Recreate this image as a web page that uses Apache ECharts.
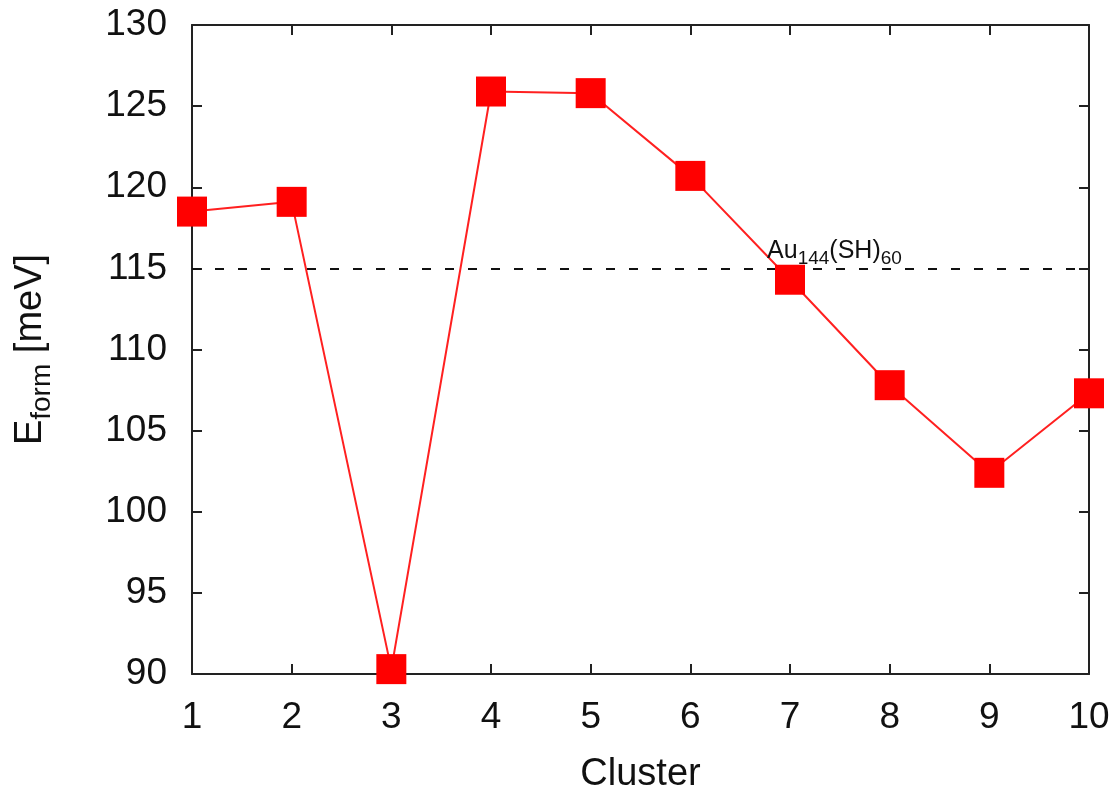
<!DOCTYPE html>
<html>
<head>
<meta charset="utf-8">
<script src="https://cdn.jsdelivr.net/npm/echarts@6/dist/echarts.min.js"></script>
<style>
html,body{margin:0;padding:0;background:#fff;}
#c{width:1119px;height:788px;}
</style>
</head>
<body>
<div id="c"></div>
<script>
var clusters = [1, 2, 3, 4, 5, 6, 7, 8, 9, 10];
var eform = [118.5, 119.1, 90.3, 125.9, 125.8, 120.7, 114.3, 107.8, 102.4, 107.3];
var referenceValue = 115;
var referenceLabelX = 6.77;
var xLabel = 'Cluster';

var FONT = '"Liberation Sans", Arial, Helvetica, sans-serif';
var AXC = '#222';

var chart = echarts.init(document.getElementById('c'), null, {renderer: 'canvas'});
var pts = clusters.map(function (c, i) { return [c, eform[i]]; });

var tickStyle = {show: true, inside: true, length: 10, lineStyle: {color: AXC, width: 2}};
var lineStyle = {show: true, onZero: false, lineStyle: {color: AXC, width: 2}};

chart.setOption({
  animation: false,
  backgroundColor: '#fff',
  grid: {left: 192, right: 30, top: 25, bottom: 114, containLabel: false, outerBoundsMode: 'none'},
  xAxis: [{
    type: 'value', min: 1, max: 10, interval: 1, position: 'bottom',
    name: xLabel, nameLocation: 'middle', nameGap: 82,
    nameTextStyle: {fontFamily: FONT, fontSize: 38, color: '#111'},
    axisLine: lineStyle, axisTick: tickStyle, splitLine: {show: false},
    axisLabel: {fontFamily: FONT, fontSize: 37, color: '#111', margin: 25}
  }, {
    type: 'value', min: 1, max: 10, interval: 1, position: 'top',
    axisLine: lineStyle, axisTick: tickStyle, splitLine: {show: false},
    axisLabel: {show: false}
  }],
  yAxis: [{
    type: 'value', min: 90, max: 130, interval: 5, position: 'left',
    name: '{e|E}{s|form}{e| [meV]}', nameLocation: 'middle', nameGap: 136,
    nameTextStyle: {
      fontFamily: FONT, color: '#111',
      rich: {
        e: {fontFamily: FONT, fontSize: 38, lineHeight: 44, verticalAlign: 'top', color: '#111'},
        s: {fontFamily: FONT, fontSize: 28, lineHeight: 26, verticalAlign: 'bottom', color: '#111'}
      }
    },
    axisLine: lineStyle, axisTick: tickStyle, splitLine: {show: false},
    axisLabel: {fontFamily: FONT, fontSize: 37, color: '#111', margin: 25}
  }, {
    type: 'value', min: 90, max: 130, interval: 5, position: 'right',
    axisLine: lineStyle, axisTick: tickStyle, splitLine: {show: false},
    axisLabel: {show: false}
  }],
  series: [{
    type: 'line',
    data: pts,
    xAxisIndex: 0, yAxisIndex: 0,
    clip: false,
    symbol: 'rect', symbolSize: 30,
    itemStyle: {color: '#ff0000'},
    lineStyle: {color: '#ff2020', width: 2},
    z: 3,
    markLine: {
      silent: true, symbol: 'none',
      lineStyle: {color: '#111', width: 2, type: [9, 14]},
      label: {show: false},
      data: [{yAxis: referenceValue}],
      z: 1
    },
    markPoint: {
      silent: true,
      symbol: 'circle', symbolSize: 0,
      data: [{coord: [referenceLabelX, referenceValue]}],
      label: {
        show: true,
        position: 'inside',
        align: 'left', verticalAlign: 'bottom',
        offset: [0, 0],
        formatter: '{a|Au}{s|144}{a|(SH)}{s|60}',
        rich: {
          a: {fontFamily: FONT, fontSize: 25, lineHeight: 30, verticalAlign: 'top', color: '#111'},
          s: {fontFamily: FONT, fontSize: 19, lineHeight: 16, verticalAlign: 'bottom', color: '#111'}
        }
      }
    }
  }]
});
</script>
</body>
</html>
